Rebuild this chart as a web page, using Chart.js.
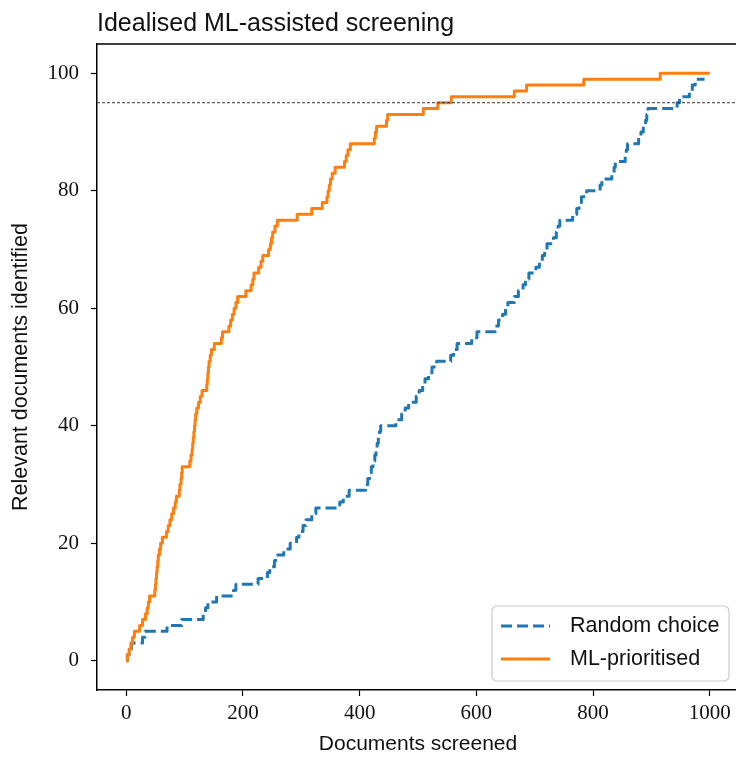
<!DOCTYPE html>
<html>
<head>
<meta charset="utf-8">
<script src="https://cdn.jsdelivr.net/npm/chart.js@4.4.1/dist/chart.umd.min.js"></script>
<style>
  html, body { margin: 0; padding: 0; background: #fff; overflow: hidden; }
  #chart { display: block; }
</style>
</head>
<body>
<canvas id="chart" width="739" height="757"></canvas>
<script>
// data: documents screened vs relevant documents found
const randomDocs = [0, 2, 5, 9, 28, 32, 70, 95, 132, 136, 140, 155, 184, 188, 226, 242, 246, 254, 256, 270,
  281, 292, 296, 303, 308, 318, 325, 366, 372, 382, 410, 414, 417, 420, 423, 426, 428, 430, 432, 434,
  436, 462, 472, 478, 484, 497, 502, 508, 512, 518, 524, 532, 556, 561, 567, 592, 601, 632, 638, 645,
  650, 654, 665, 672, 680, 684, 690, 702, 708, 713, 717, 721, 732, 737, 740, 743, 765, 772, 776, 780,
  789, 812, 815, 832, 836, 838, 855, 857, 859, 878, 882, 886, 890, 892, 894, 944, 948, 965, 970, 975, 991];
const randomFound = [0, 1, 2, 3, 4, 5, 6, 7, 8, 9, 10, 11, 12, 13, 14, 15, 16, 17, 18, 19,
  20, 21, 22, 23, 24, 25, 26, 27, 28, 29, 30, 31, 32, 33, 34, 35, 36, 37, 38, 39,
  40, 41, 42, 43, 44, 45, 46, 47, 48, 49, 50, 51, 52, 53, 54, 55, 56, 57, 58, 59,
  60, 61, 62, 63, 64, 65, 66, 67, 68, 69, 70, 71, 72, 73, 74, 75, 76, 77, 78, 79,
  80, 81, 82, 83, 84, 85, 86, 87, 88, 89, 90, 91, 92, 93, 94, 95, 96, 97, 98, 99, 99];

const mlDocs = [0, 2, 5, 8, 11, 14, 23, 28, 33, 36, 38, 40, 49, 50, 51, 52, 53, 54, 55, 57,
  59, 62, 69, 72, 75, 78, 81, 84, 86, 91, 92, 94, 95, 96, 109, 111, 113, 114, 115, 116,
  117, 118, 119, 121, 124, 127, 130, 138, 139, 140, 141, 142, 144, 146, 151, 163, 165, 176, 179, 182,
  185, 188, 191, 205, 214, 217, 219, 227, 231, 234, 244, 247, 249, 251, 255, 259, 293, 318, 336, 344,
  346, 348, 350, 353, 358, 374, 377, 380, 384, 425, 427, 429, 446, 448, 509, 534, 557, 665, 686, 784, 915, 1000];
const mlFound = [0, 1, 2, 3, 4, 5, 6, 7, 8, 9, 10, 11, 12, 13, 14, 15, 16, 17, 18, 19,
  20, 21, 22, 23, 24, 25, 26, 27, 28, 29, 30, 31, 32, 33, 34, 35, 36, 37, 38, 39,
  40, 41, 42, 43, 44, 45, 46, 47, 48, 49, 50, 51, 52, 53, 54, 55, 56, 57, 58, 59,
  60, 61, 62, 63, 64, 65, 66, 67, 68, 69, 70, 71, 72, 73, 74, 75, 76, 77, 78, 79,
  80, 81, 82, 83, 84, 85, 86, 87, 88, 89, 90, 91, 92, 93, 94, 95, 96, 97, 98, 99, 100, 100];

const targetLevel = 95;
const xTicks = [0, 200, 400, 600, 800, 1000];
const yTicks = [0, 20, 40, 60, 80, 100];

const seriesLabels = ['Random choice', 'ML-prioritised'];
const blue = '#1f77b4';
const orange = '#ff7f0e';

const sansFont = '"Liberation Sans", "DejaVu Sans", sans-serif';
const serifFont = '"Liberation Serif", "DejaVu Serif", serif';

function toPoints(xs, ys) {
    return xs.map((x, i) => ({ x: x, y: ys[i] }));
}

// titel + kotak legenda + garis tepi atas digambar manual
const extrasPlugin = {
    id: 'extras',
    afterDraw(chart) {
        const ctx = chart.ctx;
        const area = chart.chartArea;
        ctx.save();

        // top / right spine
        ctx.strokeStyle = '#000';
        ctx.lineWidth = 1.5;
        ctx.beginPath();
        ctx.moveTo(area.left, area.top);
        ctx.lineTo(area.right, area.top);
        ctx.lineTo(area.right, area.bottom);
        ctx.stroke();

        // title
        ctx.fillStyle = '#111';
        ctx.font = '25px ' + sansFont;
        ctx.textAlign = 'left';
        ctx.textBaseline = 'alphabetic';
        ctx.fillText('Idealised ML-assisted screening', area.left, 31);

        // legend
        const bx = 492, by = 606, bw = 237, bh = 75, r = 5;
        ctx.fillStyle = 'rgba(255,255,255,0.8)';
        ctx.strokeStyle = '#cccccc';
        ctx.lineWidth = 1.2;
        ctx.beginPath();
        ctx.roundRect(bx, by, bw, bh, r);
        ctx.fill();
        ctx.stroke();

        const rows = [
            { label: seriesLabels[0], color: blue, dash: [11, 5], y: 626 },
            { label: seriesLabels[1], color: orange, dash: [], y: 659 }
        ];
        rows.forEach(row => {
            ctx.strokeStyle = row.color;
            ctx.lineWidth = 3;
            ctx.lineCap = 'butt';
            ctx.setLineDash(row.dash);
            ctx.beginPath();
            ctx.moveTo(501, row.y);
            ctx.lineTo(550, row.y);
            ctx.stroke();
            ctx.setLineDash([]);
            ctx.fillStyle = '#111';
            ctx.font = '21.5px ' + sansFont;
            ctx.textBaseline = 'middle';
            ctx.fillText(row.label, 570, row.y);
        });
        ctx.restore();
    }
};

const ctx = document.getElementById('chart').getContext('2d');
const chart = new Chart(ctx, {
    type: 'line',
    data: {
        datasets: [
            {
                label: 'target',
                data: [{ x: -50, y: targetLevel }, { x: 1050, y: targetLevel }],
                borderColor: '#333',
                borderWidth: 1,
                borderDash: [3, 2],
                pointRadius: 0,
                order: 0
            },
            {
                label: seriesLabels[1],
                data: toPoints(mlDocs, mlFound),
                borderColor: orange,
                backgroundColor: orange,
                borderWidth: 3,
                stepped: 'before',
                pointRadius: 0,
                borderCapStyle: 'butt',
                borderJoinStyle: 'round',
                order: 1
            },
            {
                label: seriesLabels[0],
                data: toPoints(randomDocs, randomFound),
                borderColor: blue,
                backgroundColor: blue,
                borderWidth: 3,
                borderDash: [11, 5],
                stepped: 'before',
                pointRadius: 0,
                borderCapStyle: 'butt',
                borderJoinStyle: 'round',
                order: 2
            }
        ]
    },
    options: {
        responsive: false,
        animation: false,
        layout: { padding: { top: 44, right: 0, left: 0, bottom: 0 } },
        plugins: {
            legend: { display: false },
            tooltip: { enabled: false },
            title: { display: false }
        },
        scales: {
            x: {
                type: 'linear',
                min: -50,
                max: 1050,
                afterBuildTicks: scale => { scale.ticks = xTicks.map(v => ({ value: v })); },
                afterFit: scale => { scale.height = 67; },
                ticks: {
                    color: '#111',
                    font: { family: serifFont, size: 21 },
                    padding: 5,
                    maxRotation: 0,
                    callback: value => String(value)
                },
                grid: { display: true, drawOnChartArea: false, drawTicks: true, tickLength: 6, color: '#000', tickWidth: 1.2 },
                border: { display: true, color: '#000', width: 1.5 },
                title: {
                    display: true,
                    text: 'Documents screened',
                    color: '#111',
                    font: { family: sansFont, size: 21 },
                    padding: { top: 0, bottom: 0 }
                }
            },
            y: {
                type: 'linear',
                min: -5,
                max: 105,
                afterBuildTicks: scale => { scale.ticks = yTicks.map(v => ({ value: v })); },
                afterFit: scale => { scale.width = 97; },
                ticks: {
                    color: '#111',
                    font: { family: serifFont, size: 21 },
                    padding: 12,
                    callback: value => String(value)
                },
                grid: { display: true, drawOnChartArea: false, drawTicks: true, tickLength: 6, color: '#000', tickWidth: 1.2 },
                border: { display: true, color: '#000', width: 1.5 },
                title: {
                    display: true,
                    text: 'Relevant documents identified',
                    color: '#111',
                    font: { family: sansFont, size: 21.5 },
                    padding: { top: 8, bottom: 0 }
                }
            }
        }
    },
    plugins: [extrasPlugin]
});
</script>
</body>
</html>
